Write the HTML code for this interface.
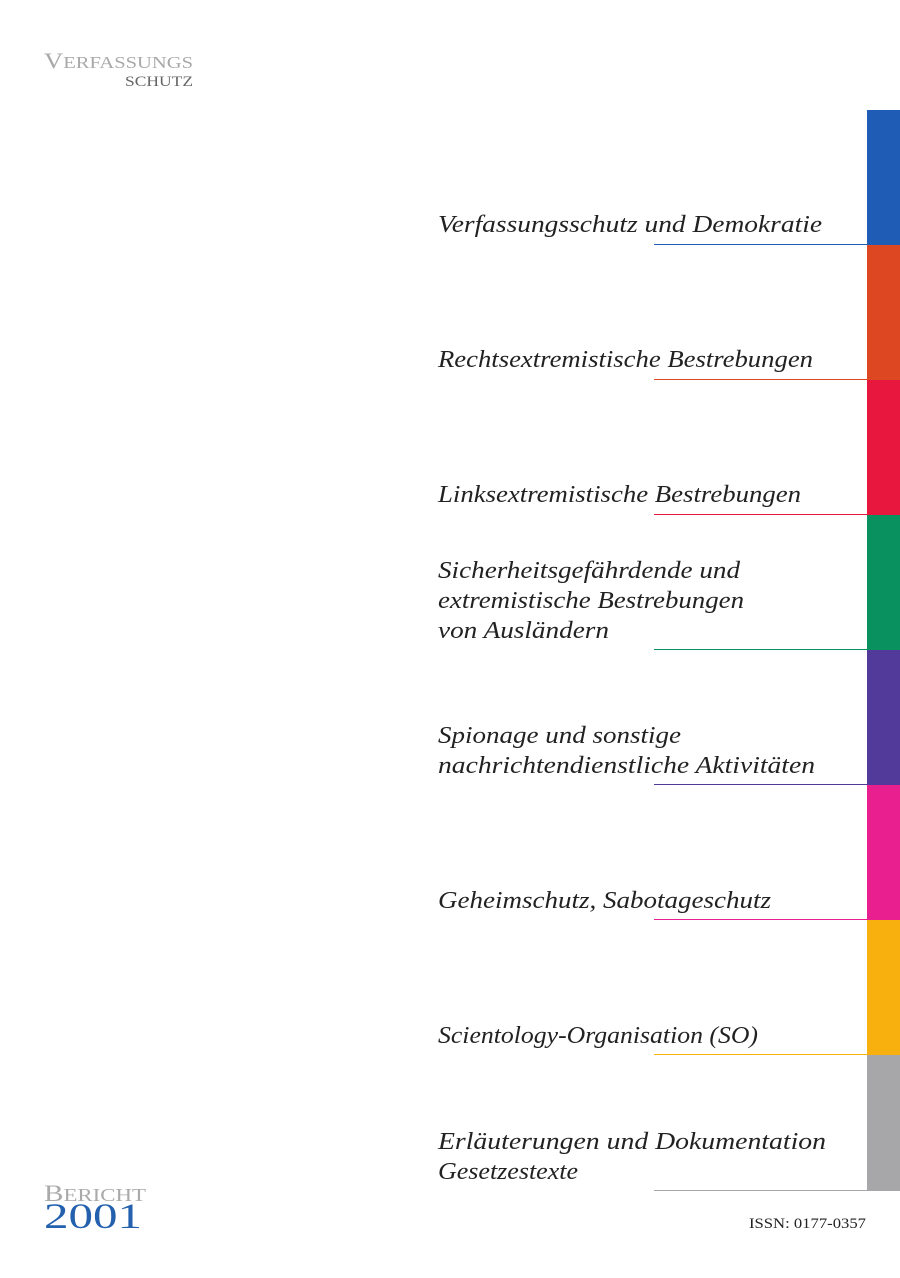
<!DOCTYPE html>
<html><head><meta charset="utf-8"><style>
html,body{margin:0;padding:0;background:#fff;}
body{width:900px;height:1278px;position:relative;overflow:hidden;}
svg{position:absolute;left:0;top:0;}
</style></head><body>
<svg width="900" height="1278" xmlns="http://www.w3.org/2000/svg">
<g font-family="Liberation Serif, serif">
<text x="44" y="68" fill="#a9a9a9" font-size="22" textLength="149" lengthAdjust="spacingAndGlyphs">V<tspan font-size="17">ERFASSUNGS</tspan></text>
<text x="125" y="86" fill="#666" font-size="15" textLength="68" lengthAdjust="spacingAndGlyphs">SCHUTZ</text>
<text x="44" y="1201" fill="#aaa" font-size="23" textLength="102" lengthAdjust="spacingAndGlyphs">B<tspan font-size="18">ERICHT</tspan></text>
<text x="44" y="1228" fill="#2360ad" font-size="36" textLength="98" lengthAdjust="spacingAndGlyphs">2001</text>
<text x="749" y="1228" fill="#222" font-size="15" textLength="117" lengthAdjust="spacingAndGlyphs">ISSN: 0177-0357</text>
</g>
<g>
<rect x="867" y="110" width="33" height="135" fill="#1f5cb5"/>
<rect x="867" y="245" width="33" height="135" fill="#dd4722"/>
<rect x="867" y="380" width="33" height="135" fill="#e8173d"/>
<rect x="867" y="515" width="33" height="135" fill="#0a9160"/>
<rect x="867" y="650" width="33" height="135" fill="#523a9a"/>
<rect x="867" y="785" width="33" height="135" fill="#ea1f8f"/>
<rect x="867" y="920" width="33" height="135" fill="#f8b00f"/>
<rect x="867" y="1055" width="33" height="136" fill="#a7a6a8"/>
<rect x="654" y="244" width="213" height="1" fill="#1f5cb5"/>
<rect x="654" y="379" width="213" height="1" fill="#dd4722"/>
<rect x="654" y="514" width="213" height="1" fill="#e8173d"/>
<rect x="654" y="649" width="213" height="1" fill="#0a9160"/>
<rect x="654" y="784" width="213" height="1" fill="#523a9a"/>
<rect x="654" y="919" width="213" height="1" fill="#ea1f8f"/>
<rect x="654" y="1054" width="213" height="1" fill="#f8b00f"/>
<rect x="654" y="1190" width="213" height="1" fill="#a7a6a8"/>
</g>
<g font-family="Liberation Serif, serif" font-style="italic" font-size="24" fill="#222">
<text x="438" y="232" textLength="384" lengthAdjust="spacingAndGlyphs">Verfassungsschutz und Demokratie</text>
<text x="438" y="367" textLength="375" lengthAdjust="spacingAndGlyphs">Rechtsextremistische Bestrebungen</text>
<text x="438" y="502" textLength="363" lengthAdjust="spacingAndGlyphs">Linksextremistische Bestrebungen</text>
<text x="438" y="578" textLength="302" lengthAdjust="spacingAndGlyphs">Sicherheitsgefährdende und</text>
<text x="438" y="608" textLength="306" lengthAdjust="spacingAndGlyphs">extremistische Bestrebungen</text>
<text x="438" y="638" textLength="171" lengthAdjust="spacingAndGlyphs">von Ausländern</text>
<text x="438" y="743" textLength="243" lengthAdjust="spacingAndGlyphs">Spionage und sonstige</text>
<text x="438" y="773" textLength="377" lengthAdjust="spacingAndGlyphs">nachrichtendienstliche Aktivitäten</text>
<text x="438" y="908" textLength="333" lengthAdjust="spacingAndGlyphs">Geheimschutz, Sabotageschutz</text>
<text x="438" y="1043" textLength="320" lengthAdjust="spacingAndGlyphs">Scientology-Organisation (SO)</text>
<text x="438" y="1149" textLength="388" lengthAdjust="spacingAndGlyphs">Erläuterungen und Dokumentation</text>
<text x="438" y="1179" textLength="140" lengthAdjust="spacingAndGlyphs">Gesetzestexte</text>
</g>
</svg>
</body></html>
